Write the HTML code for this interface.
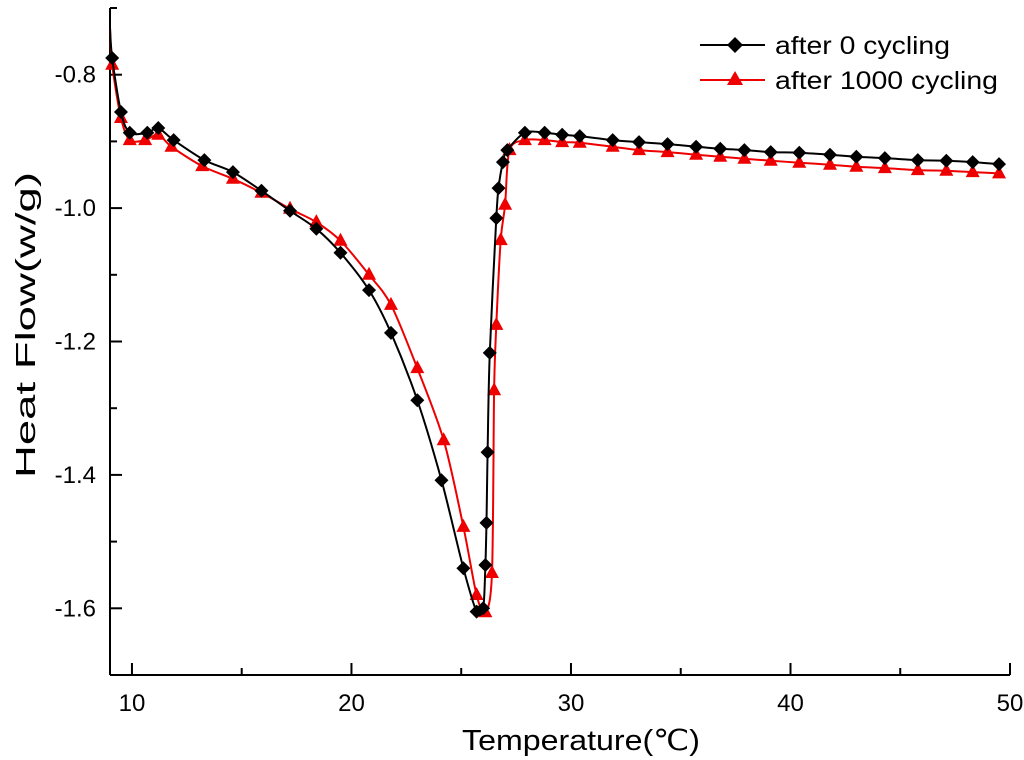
<!DOCTYPE html>
<html><head><meta charset="utf-8"><style>
body{margin:0;background:#fff}
svg{display:block;font-family:"Liberation Sans",Arial,sans-serif}
</style></head><body>
<svg id="chart" width="1024" height="760" viewBox="0 0 1024 760" xmlns="http://www.w3.org/2000/svg">
<g id="axes"></g>
<g id="series"></g>
<g id="legend">
  <line x1="700" y1="45" x2="765" y2="45" stroke="#000" stroke-width="2"/>
  <path d="M735,37 L743,45 L735,53 L727,45 Z" fill="#000"/>
  <text x="775" y="54" font-size="25" textLength="175" lengthAdjust="spacingAndGlyphs">after 0 cycling</text>
  <line x1="700" y1="80" x2="765" y2="80" stroke="#e00" stroke-width="2"/>
  <path d="M735,71 L743,85 L727,85 Z" fill="#e00"/>
  <text x="775" y="89" font-size="25" textLength="223" lengthAdjust="spacingAndGlyphs">after 1000 cycling</text>
</g>
<text x="462" y="750" font-size="29" textLength="238" lengthAdjust="spacingAndGlyphs">Temperature(℃)</text>
<text transform="translate(35,478) rotate(-90)" font-size="28" textLength="306" lengthAdjust="spacingAndGlyphs">Heat Flow(w/g)</text>
</svg>
<script>
const xTicks=[10,20,30,40,50];
const yTicks=[-0.8,-1.0,-1.2,-1.4,-1.6];
const yTickLabels=["-0.8","-1.0","-1.2","-1.4","-1.6"];
const x0=[9.0,9.1,9.5,9.9,10.7,11.2,11.9,13.3,14.6,15.9,17.2,18.4,19.5,20.8,21.8,23.0,24.1,25.1,25.7,26.0,26.1,26.15,26.2,26.3,26.6,26.7,26.9,27.1,27.9,28.8,29.6,30.4,31.9,33.1,34.4,35.7,36.8,37.9,39.1,40.4,41.8,43.0,44.3,45.8,47.1,48.3,49.5];
const y0=[-0.73,-0.775,-0.856,-0.887,-0.887,-0.88,-0.898,-0.928,-0.946,-0.974,-1.004,-1.031,-1.067,-1.123,-1.187,-1.288,-1.408,-1.540,-1.605,-1.600,-1.535,-1.472,-1.366,-1.217,-1.015,-0.970,-0.931,-0.913,-0.887,-0.887,-0.890,-0.892,-0.898,-0.901,-0.904,-0.908,-0.911,-0.913,-0.916,-0.917,-0.920,-0.923,-0.925,-0.928,-0.929,-0.931,-0.934];
const x1=[9.0,9.1,9.5,9.9,10.6,11.2,11.8,13.2,14.6,15.9,17.2,18.4,19.5,20.8,21.8,23.0,24.2,25.1,25.7,26.1,26.4,26.5,26.6,26.8,27.0,27.2,27.9,28.8,29.6,30.4,31.9,33.1,34.4,35.7,36.8,37.9,39.1,40.4,41.8,43.0,44.3,45.8,47.1,48.3,49.5];
const y1=[-0.73,-0.785,-0.865,-0.898,-0.898,-0.89,-0.908,-0.937,-0.956,-0.977,-1.001,-1.021,-1.049,-1.100,-1.145,-1.240,-1.348,-1.478,-1.580,-1.606,-1.547,-1.273,-1.175,-1.048,-0.995,-0.913,-0.898,-0.898,-0.901,-0.902,-0.908,-0.913,-0.916,-0.920,-0.923,-0.926,-0.929,-0.932,-0.935,-0.938,-0.940,-0.943,-0.944,-0.946,-0.948];
const NS="http://www.w3.org/2000/svg";
const L=110,R=1010,T=8,B=675,XMIN=9,XMAX=50,YMIN=-1.7,YMAX=-0.7;
function sx(v){return L+(v-XMIN)/(XMAX-XMIN)*(R-L);}
function sy(v){return B-(v-YMIN)/(YMAX-YMIN)*(B-T);}
function mk(tag,attrs,parent){const e=document.createElementNS(NS,tag);for(const k in attrs)e.setAttribute(k,attrs[k]);parent.appendChild(e);return e;}
const ax=document.getElementById('axes');
let a=mk('line',{x1:L,y1:B,x2:R,y2:B,stroke:'#000','stroke-width':2},ax);


a=mk('line',{x1:L,y1:T,x2:L,y2:B,stroke:'#000','stroke-width':2},ax);


xTicks.forEach(v=>{
  const t=mk('line',{x1:sx(v),y1:B,x2:sx(v),y2:B-12,stroke:'#000','stroke-width':2},ax);
  
  
  if(v-5>XMIN){
    const m=mk('line',{x1:sx(v-5),y1:B,x2:sx(v-5),y2:B-7,stroke:'#000','stroke-width':2},ax);
    
    
  }
  const lb=mk('text',{x:sx(v),y:B+36,'font-size':24,'text-anchor':'middle'},ax);
  lb.textContent=String(v);
  
  
});
yTicks.forEach((v,i)=>{
  const t=mk('line',{x1:L,y1:sy(v),x2:L+12,y2:sy(v),stroke:'#000','stroke-width':2},ax);
  
  
  const m=mk('line',{x1:L,y1:sy(v+0.1),x2:L+7,y2:sy(v+0.1),stroke:'#000','stroke-width':2},ax);
  
  
  const lb=mk('text',{x:L-14,y:sy(v)+8,'font-size':24,'text-anchor':'end'},ax);
  lb.textContent=yTickLabels[i];
  
  
});
const sg=document.getElementById('series');
function smoothPath(p){
  let d=`M${p[0][0].toFixed(1)},${p[0][1].toFixed(1)}`;
  for(let i=0;i<p.length-1;i++){
    const p0=p[Math.max(i-1,0)],p1=p[i],p2=p[i+1],p3=p[Math.min(i+2,p.length-1)];
    const k=0.15;
    const c1=[p1[0]+(p2[0]-p0[0])*k,p1[1]+(p2[1]-p0[1])*k];
    const c2=[p2[0]-(p3[0]-p1[0])*k,p2[1]-(p3[1]-p1[1])*k];
    d+=` C${c1[0].toFixed(1)},${c1[1].toFixed(1)} ${c2[0].toFixed(1)},${c2[1].toFixed(1)} ${p2[0].toFixed(1)},${p2[1].toFixed(1)}`;
  }
  return d;
}
function draw(xs,ys,color,shape,name){
  const pts=xs.map((x,i)=>[sx(x),sy(ys[i])]);
  const pl=mk('path',{d:smoothPath(pts),fill:'none',stroke:color,'stroke-width':2,'stroke-linejoin':'round'},sg);
  
  
  xs.forEach((x,i)=>{
    if(i===0)return;
    const cx=sx(x),cy=sy(ys[i]);
    const d=shape==='d'?`M${cx},${cy-7} L${cx+7},${cy} L${cx},${cy+7} L${cx-7},${cy} Z`:`M${cx},${cy-8} L${cx+7},${cy+5} L${cx-7},${cy+5} Z`;
    const p=mk('path',{d:d,fill:color},sg);
    
    
  });
}
draw(x1,y1,'#e00','t','series-1000');
draw(x0,y0,'#000','d','series-0');
</script>
</body></html>
